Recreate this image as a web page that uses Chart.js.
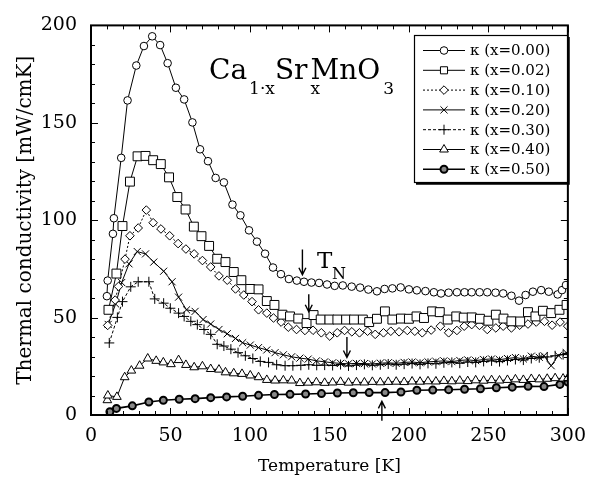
<!DOCTYPE html>
<html>
<head>
<meta charset="utf-8">
<script src="https://cdn.jsdelivr.net/npm/chart.js@4.4.1/dist/chart.umd.min.js"></script>
<style>
  html, body { margin: 0; padding: 0; background: #ffffff; }
  #wrap { width: 596px; height: 486px; }
</style>
</head>
<body>
<div id="wrap"><canvas id="c" width="596" height="486"></canvas></div>
<script>
// ---------- data ----------
const seriesLabels = ["κ (x=0.00)", "κ (x=0.02)", "κ (x=0.10)", "κ (x=0.20)", "κ (x=0.30)", "κ (x=0.40)", "κ (x=0.50)"];
const xTicks = [0, 50, 100, 150, 200, 250, 300];
const yTicks = [0, 50, 100, 150, 200];

const T00 = [10, 10.5, 13.8, 14.4, 19, 23, 28.5, 33.3, 38.5, 43.5, 48.2, 53.4, 58.6, 63.8, 68.6, 73.6, 78.4, 83.6, 89, 94, 99.4, 104.4, 109.5, 114.5, 119.5, 124.5, 129.5, 134, 138.7, 143.5, 148.5, 153.3, 158.4, 164, 169.3, 174.5, 179.9, 184.7, 189.6, 194.8, 200, 205, 210.4, 215.7, 220.2, 225, 230.2, 235, 239.5, 244.5, 249.3, 254.5, 259.3, 264.5, 269.3, 273.4, 278, 283.2, 288, 293.6, 296.3, 298.8];
const K00 = [61, 69, 93, 101, 132, 161.5, 179.4, 189.4, 194.4, 189.9, 180.6, 168, 162, 150.2, 136.4, 130.3, 121.7, 119.4, 108, 102.5, 94.8, 89, 82.8, 75.7, 72.3, 69.8, 69, 68.4, 68, 67.8, 67, 66.3, 66.5, 65.9, 65.4, 64.4, 63.5, 64.7, 65, 65.5, 64.5, 64, 63.6, 63, 62.4, 62.8, 63, 63, 63, 63, 63, 62.8, 62.4, 61.2, 58.7, 61.6, 63.3, 64.1, 63.3, 61.9, 64.1, 66.7];

const T02 = [11, 16, 19.8, 24.5, 29.3, 34.3, 39.1, 43.9, 49.1, 54.3, 59.5, 64.7, 69.5, 74.3, 79.4, 84.6, 89.8, 94.6, 100.2, 105.4, 110.6, 115.4, 120.4, 125.2, 130.4, 135.6, 140, 144.5, 150, 155, 160.5, 165.5, 171, 175, 179.9, 184.9, 189.6, 195, 200, 204.8, 209.5, 214.6, 219.4, 224.4, 229.8, 234.5, 239.5, 244.7, 250, 254.7, 259.5, 264.5, 270, 274.9, 279.6, 284.3, 289.5, 294.7, 299.2];
const K02 = [54, 72.6, 97, 119.8, 132.8, 133, 130.8, 128.8, 122, 111.9, 105.5, 96.7, 91.8, 86.8, 80.2, 78.5, 73.4, 69.2, 64.7, 64.5, 58.5, 56.5, 51.5, 50.6, 49.5, 47.2, 51.3, 49, 49, 49, 49, 49, 49, 47.7, 49.4, 53.2, 49, 49.5, 49.4, 50.6, 49.8, 53.2, 52.8, 49, 50.6, 50, 50.1, 49.4, 48.4, 51.5, 49.5, 48.1, 48, 52.8, 50.6, 53.5, 52.3, 54, 56.5];

const T10 = [10.5, 15.2, 17.3, 21.4, 24.5, 29.7, 34.8, 39.1, 44, 49.5, 54.8, 59.7, 64.9, 70.1, 75.3, 80.5, 85.7, 90.9, 96.1, 101.3, 105.4, 110.6, 114.8, 119.6, 124.1, 129.3, 134.6, 139.7, 144.9, 150.2, 154.9, 159.5, 164.1, 168.9, 174, 178.8, 184, 188.6, 193.8, 199, 203.7, 208.4, 214, 219.8, 225, 230.2, 234.8, 239.5, 244.4, 249.3, 254.7, 259.3, 264.5, 269.7, 274.9, 280.1, 285.3, 290.1, 295.1, 299.9];
const K10 = [46, 59, 66, 80, 92, 96, 105.2, 98.7, 95.5, 92, 88, 85.2, 82.7, 79.3, 76, 71.4, 69.2, 64.7, 61.6, 58.2, 54, 52.3, 49.8, 47.7, 45.1, 43.9, 43.4, 43.5, 42.2, 40.5, 42.2, 43.4, 42.7, 42.2, 43, 41.4, 42.2, 43, 42.7, 43.4, 43, 42.2, 43.6, 45.6, 42.2, 43.4, 45.6, 46.4, 46, 43.9, 44.7, 45.6, 44.7, 46.1, 46.7, 47.7, 48.1, 46.1, 47.7, 45.6];

const T20 = [10.8, 15.5, 19.3, 23.9, 29.1, 34.3, 39.5, 45.7, 51, 55.1, 60.1, 65.5, 70.5, 75.3, 80.5, 85.7, 90.9, 95.4, 100.2, 105.4, 110.6, 115.8, 121, 126.2, 131.4, 136.6, 141.8, 147, 152, 157, 162, 167, 172, 177, 182, 187, 192, 197, 202, 207, 212, 217, 222, 227, 232, 237, 242, 247, 252, 257, 262, 267, 272, 277, 282, 285, 289.5, 294, 299];
const K20 = [46.5, 57, 68, 77.6, 83.9, 82.7, 78.5, 73.8, 68.4, 60.5, 54, 53.2, 49, 46.7, 43.9, 41.7, 39.3, 37.1, 35.9, 34.6, 33.4, 32, 30.9, 29.9, 29.2, 28.7, 27.8, 27.3, 26.8, 26.5, 26.3, 26.5, 26.4, 26.2, 26.6, 26.8, 26.5, 27, 27.2, 26.8, 27.3, 27.5, 27.8, 27.4, 28, 28.3, 27.9, 28.5, 28.8, 28.4, 29, 29.5, 28.8, 30.2, 29.6, 30.4, 25.3, 30.5, 32];

const T30 = [11.5, 16.6, 19.8, 25, 29.7, 36.4, 40.1, 45.7, 49.9, 55.1, 58.6, 62.8, 66.9, 71.1, 75.3, 79.4, 83.6, 88, 92.5, 97.1, 101.8, 106.5, 111.7, 116.8, 122.1, 127, 132, 137, 142, 147, 152, 157, 162, 167, 172, 177, 182, 187, 192, 197, 202, 207, 212, 217, 222, 227, 232, 237, 242, 247, 252, 257, 262, 267, 272, 277, 282, 287, 292, 297, 300];
const K30 = [37, 50.1, 58.2, 65.8, 68.4, 68.4, 59.6, 57.4, 54.8, 52.3, 50.6, 48.1, 46.4, 43.9, 41.4, 36.3, 35.4, 33.8, 32, 30.4, 29, 27.5, 27, 25.8, 25.3, 25.3, 25.5, 25.8, 25.5, 25.6, 25.4, 25.9, 25.2, 25.6, 26, 25.5, 25.8, 26.2, 25.8, 26.1, 26.4, 26, 26.5, 26.3, 26.8, 27, 26.6, 27.2, 27, 27.5, 27.8, 27.4, 28, 28.5, 28.2, 29, 29.4, 29.8, 30.4, 31, 31.5];

const T40 = [10.3, 10.6, 16.3, 21.2, 25.4, 30.6, 35.7, 41, 45.5, 50.3, 55.1, 59.7, 64.9, 70.1, 75.3, 80.5, 84.6, 89.8, 95, 100.2, 105.4, 110.6, 115.8, 121, 126.2, 131.4, 136.6, 141.8, 147, 152, 157, 162, 167, 172, 177, 182, 187, 192, 197, 202, 207, 212, 217, 222, 227, 232, 237, 242, 247, 252, 257, 262, 267, 272, 277, 282, 287, 292, 297, 300];
const K40 = [7.6, 10, 9.3, 19.4, 22.8, 25.3, 29, 27.8, 27, 26.1, 28.2, 25.7, 24.5, 25, 23.6, 23.3, 21.9, 21.4, 21.1, 20.3, 19.4, 18, 17.7, 17.8, 17.7, 16.4, 16.6, 16.8, 16.5, 16.7, 17, 16.6, 16.8, 16.7, 17, 16.8, 17, 17.1, 16.9, 17.2, 17.1, 17.3, 17.2, 17.5, 17.3, 17.6, 17.4, 17.8, 17.6, 17.9, 17.7, 18, 18.3, 18, 18.5, 18.3, 18.6, 18.9, 18.7, 19];

const T50 = [11.9, 16, 26, 36.4, 45.5, 55.5, 65.5, 75.3, 85.3, 95.4, 105.4, 115.4, 125.2, 135, 145, 155, 165, 175, 185, 195, 205, 215, 225, 235, 245, 255, 265, 275, 285, 295, 300];
const K50 = [1.7, 3.4, 4.7, 6.7, 7.6, 8.1, 8.4, 8.9, 9.3, 9.6, 10.1, 10.5, 10.6, 10.8, 11, 11.3, 11.4, 11.5, 11.5, 11.8, 12.7, 12.8, 13, 13.2, 13.5, 14, 14.3, 14.7, 14.6, 15.7, 16.9];

// T_N markers (temperature, arrow from value, to value)
const tnArrows = [
  { t: 133, from: 85, to: 72 },
  { t: 137, from: 62, to: 53 },
  { t: 161, from: 40, to: 29.5 },
  { t: 183, from: -3, to: 7 }
];

// ---------- build ----------
const toXY = (ts, ks) => ts.map((t, i) => ({ x: t, y: ks[i] }));
const serif = "'DejaVu Serif', 'Liberation Serif', serif";

const styles = [
  { pointStyle: 'circle',    pointRadius: 3.8, dash: [],     lw: 1,   pbw: 1,   pbg: '#ffffff' },
  { pointStyle: 'rect',      pointRadius: 6.3, dash: [],     lw: 1,   pbw: 1,   pbg: '#ffffff' },
  { pointStyle: 'rectRot',   pointRadius: 4.3, dash: [2, 2], lw: 1,   pbw: 1,   pbg: '#ffffff' },
  { pointStyle: 'crossRot',  pointRadius: 5,   dash: [],     lw: 1,   pbw: 1,   pbg: '#ffffff' },
  { pointStyle: 'cross',     pointRadius: 5,   dash: [3, 2], lw: 1,   pbw: 1,   pbg: '#ffffff' },
  { pointStyle: 'triangle',  pointRadius: 5,   dash: [],     lw: 1,   pbw: 1,   pbg: '#ffffff' },
  { pointStyle: 'circle',    pointRadius: 3.5, dash: [],     lw: 1.6, pbw: 2,   pbg: '#888888' }
];
const seriesData = [toXY(T00, K00), toXY(T02, K02), toXY(T10, K10), toXY(T20, K20), toXY(T30, K30), toXY(T40, K40), toXY(T50, K50)];

const datasets = seriesData.map((d, i) => ({
  label: seriesLabels[i],
  data: d,
  borderColor: '#000000',
  borderWidth: styles[i].lw,
  borderDash: styles[i].dash,
  pointStyle: styles[i].pointStyle,
  pointRadius: styles[i].pointRadius,
  pointBorderWidth: styles[i].pbw,
  pointBorderColor: '#000000',
  pointBackgroundColor: styles[i].pbg,
  tension: 0,
  fill: false
}));

function drawMarker(ctx, style, r, x, y) {
  ctx.beginPath();
  if (style === 'circle') {
    ctx.arc(x, y, r, 0, Math.PI * 2);
    ctx.fill(); ctx.stroke();
  } else if (style === 'rect') {
    const s = r * Math.SQRT1_2;
    ctx.rect(x - s, y - s, 2 * s, 2 * s); ctx.fill(); ctx.stroke();
  } else if (style === 'rectRot') {
    ctx.moveTo(x, y - r); ctx.lineTo(x + r, y); ctx.lineTo(x, y + r); ctx.lineTo(x - r, y); ctx.closePath();
    ctx.fill(); ctx.stroke();
  } else if (style === 'crossRot') {
    const s = r * Math.SQRT1_2;
    ctx.moveTo(x - s, y - s); ctx.lineTo(x + s, y + s); ctx.moveTo(x + s, y - s); ctx.lineTo(x - s, y + s); ctx.stroke();
  } else if (style === 'cross') {
    ctx.moveTo(x, y - r); ctx.lineTo(x, y + r); ctx.moveTo(x - r, y); ctx.lineTo(x + r, y); ctx.stroke();
  } else if (style === 'triangle') {
    ctx.moveTo(x, y - r); ctx.lineTo(x + r * 0.87, y + r * 0.5); ctx.lineTo(x - r * 0.87, y + r * 0.5); ctx.closePath();
    ctx.fill(); ctx.stroke();
  }
}

const framePlugin = {
  id: 'frame',
  afterDatasetsDraw(chart) {
    const ctx = chart.ctx;
    const a = chart.chartArea;
    const xs = chart.scales.x, ys = chart.scales.y;
    ctx.save();
    ctx.strokeStyle = '#000';
    // frame
    ctx.lineWidth = 2;
    ctx.strokeRect(a.left, a.top, a.right - a.left, a.bottom - a.top);
    // inward ticks
    ctx.lineWidth = 1;
    for (let v = 0; v <= 300; v += 10) {
      const px = Math.round(xs.getPixelForValue(v)) + 0.5;
      const L = (v % 50 === 0) ? 7 : 4;
      ctx.beginPath();
      ctx.moveTo(px, a.bottom); ctx.lineTo(px, a.bottom - L);
      ctx.moveTo(px, a.top); ctx.lineTo(px, a.top + L);
      ctx.stroke();
    }
    for (let v = 0; v <= 200; v += 10) {
      const py = Math.round(ys.getPixelForValue(v)) + 0.5;
      const L = (v % 50 === 0) ? 7 : 4;
      ctx.beginPath();
      ctx.moveTo(a.left, py); ctx.lineTo(a.left + L, py);
      ctx.moveTo(a.right, py); ctx.lineTo(a.right - L, py);
      ctx.stroke();
    }

    // compound title
    ctx.fillStyle = '#000';
    ctx.textBaseline = 'alphabetic';
    ctx.textAlign = 'left';
    const big = "28px " + serif, small = "17px " + serif;
    let cx = 209; const by = 79, sy = 94;
    ctx.font = big; ctx.fillText('Ca', cx, by); cx += ctx.measureText('Ca').width + 2;
    ctx.font = small; ctx.fillText('1·x', cx, sy); cx += ctx.measureText('1·x').width;
    ctx.font = big; ctx.fillText('Sr', cx, by); cx += ctx.measureText('Sr').width;
    ctx.font = small; ctx.fillText('x', cx + 3, sy);
    cx += 3;
    ctx.font = big; ctx.fillText('MnO', cx, by); cx += ctx.measureText('MnO').width + 3;
    ctx.font = small; ctx.fillText('3', cx, sy);

    // T_N label
    ctx.font = "23px " + serif; ctx.fillText('T', 317, 268);
    ctx.font = "16px " + serif; ctx.fillText('N', 332, 279);

    // arrows
    ctx.lineWidth = 1.4;
    tnArrows.forEach(ar => {
      const px = xs.getPixelForValue(ar.t);
      const y1 = ys.getPixelForValue(ar.from), y2 = ys.getPixelForValue(ar.to);
      const dir = y2 > y1 ? 1 : -1;
      ctx.beginPath();
      ctx.moveTo(px, y1); ctx.lineTo(px, y2);
      ctx.moveTo(px - 3.5, y2 - dir * 7); ctx.lineTo(px, y2); ctx.lineTo(px + 3.5, y2 - dir * 7);
      ctx.stroke();
    });

    // legend
    const L = { x: 414, y: 35, w: 153, h: 147, row0: 50.5, dy: 19.8 };
    ctx.fillStyle = '#fff';
    ctx.fillRect(L.x, L.y, L.w, L.h);
    ctx.lineWidth = 1.2;
    ctx.strokeRect(L.x + 0.5, L.y + 0.5, L.w, L.h);
    ctx.lineWidth = 2.5;
    ctx.beginPath();
    ctx.moveTo(L.x + 2, L.y + L.h + 1.5); ctx.lineTo(L.x + L.w + 1.5, L.y + L.h + 1.5); ctx.lineTo(L.x + L.w + 1.5, L.y + 2);
    ctx.stroke();
    ctx.font = "15px " + serif;
    ctx.textBaseline = 'middle';
    chart.data.datasets.forEach((ds, i) => {
      const yy = L.y + (L.row0 - 35) + i * L.dy;
      ctx.strokeStyle = '#000';
      ctx.lineWidth = ds.borderWidth;
      ctx.setLineDash(ds.borderDash || []);
      ctx.beginPath(); ctx.moveTo(423, yy); ctx.lineTo(465, yy); ctx.stroke();
      ctx.setLineDash([]);
      ctx.lineWidth = ds.pointBorderWidth;
      ctx.fillStyle = ds.pointBackgroundColor;
      drawMarker(ctx, ds.pointStyle, Math.min(ds.pointRadius, 5), 444, yy);
      ctx.fillStyle = '#000';
      ctx.fillText(ds.label, 470, yy + 1);
    });
    ctx.restore();
  }
};

new Chart(document.getElementById('c'), {
  type: 'line',
  data: { datasets },
  options: {
    responsive: false,
    animation: false,
    devicePixelRatio: 1,
    layout: { padding: { left: 0, right: 24, top: 20, bottom: 0 } },
    plugins: { legend: { display: false }, tooltip: { enabled: false } },
    scales: {
      x: {
        type: 'linear', min: 0, max: 300,
        afterBuildTicks: s => { s.ticks = xTicks.map(v => ({ value: v })); },
        afterFit: s => { s.height = 71; },
        grid: { display: false, drawTicks: false },
        border: { display: false },
        ticks: { color: '#000', font: { family: serif, size: 19 }, padding: 10, maxRotation: 0 },
        title: { display: true, text: 'Temperature [K]', color: '#000', font: { family: serif, size: 17 }, padding: { top: 2, bottom: 9 } }
      },
      y: {
        type: 'linear', min: 0, max: 200,
        afterBuildTicks: s => { s.ticks = yTicks.map(v => ({ value: v })); },
        afterFit: s => { s.width = 91; },
        grid: { display: false, drawTicks: false },
        border: { display: false },
        ticks: { color: '#000', font: { family: serif, size: 19 }, padding: 14 },
        title: { display: true, text: 'Thermal conductivity [mW/cmK]', color: '#000', font: { family: serif, size: 20 }, padding: { top: 14, bottom: 0 } }
      }
    }
  },
  plugins: [framePlugin]
});
</script>
</body>
</html>
